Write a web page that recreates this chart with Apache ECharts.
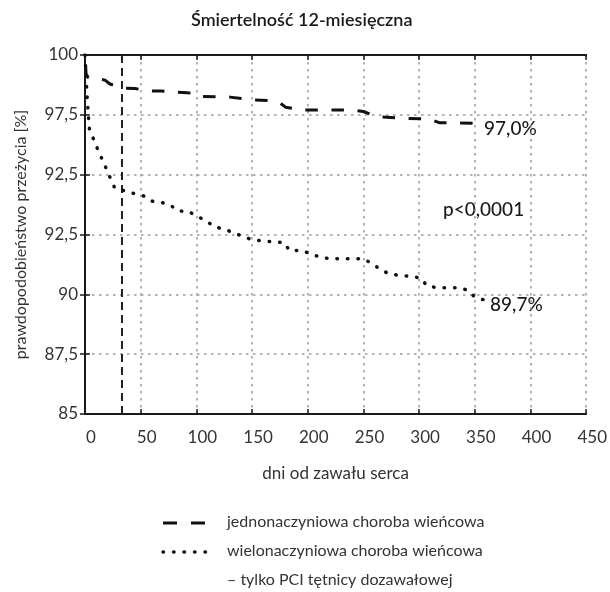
<!DOCTYPE html>
<html>
<head>
<meta charset="utf-8">
<script src="https://cdn.jsdelivr.net/npm/echarts@6/dist/echarts.min.js"></script>
<style>
html,body{margin:0;padding:0;background:#fff;}
#c{width:610px;height:592px;}
</style>
</head>
<body>
<div id="c"></div>
<script>
const titleText = 'Śmiertelność 12-miesięczna';
const xAxisName = 'dni od zawału serca';
const yAxisName = 'prawdopodobieństwo przeżycia [%]';
const yTickLabels = ['85', '87,5', '90', '92,5', '92,5', '97,5', '100'];
const seriesNames = ['jednonaczyniowa choroba wieńcowa', 'wielonaczyniowa choroba wieńcowa'];
const legendExtra = '– tylko PCI tętnicy dozawałowej';
const markerDay = [33];
const annotations = ['97,0%', 'p<0,0001', '89,7%'];

const days1 = [0, 0.5, 1, 3, 12, 18, 22, 28, 33, 45, 57, 68, 81, 92, 100, 104, 130, 149, 165, 175, 180, 197, 240, 250, 262, 290, 310, 318, 348];
const vals1 = [100, 99.6, 99.2, 99.05, 99.0, 98.95, 98.8, 98.7, 98.62, 98.6, 98.5, 98.5, 98.45, 98.42, 98.4, 98.27, 98.24, 98.13, 98.1, 98.0, 97.82, 97.7, 97.7, 97.64, 97.42, 97.35, 97.32, 97.17, 97.15];

const days2 = [0, 0.5, 1, 1.5, 2, 3, 4, 7.7, 11.3, 15.1, 19, 22.8, 26.7, 35.9, 45.1, 54.3, 60.5, 69.7, 77.7, 83.6, 92.5, 100.8, 109.7, 115.6, 125.1, 133.7, 142.3, 150.6, 160.4, 170, 178.8, 183.8, 193.3, 202.2, 211.1, 220.6, 230.1, 248.7, 257.3, 265, 273.3, 282.8, 292.3, 301.5, 307.1, 315.7, 334.7, 343.3, 350.4, 359];
const vals2 = [100, 99.5, 99.1, 98.6, 98.2, 97.5, 96.9, 96.48, 96.07, 95.67, 95.26, 94.85, 94.44, 94.32, 94.2, 94.09, 93.89, 93.83, 93.69, 93.48, 93.47, 93.26, 93.05, 92.83, 92.72, 92.57, 92.41, 92.27, 92.23, 92.19, 92.16, 91.82, 91.84, 91.71, 91.55, 91.48, 91.49, 91.49, 91.31, 91.04, 90.85, 90.79, 90.75, 90.68, 90.35, 90.28, 90.28, 90.18, 89.87, 89.76];

const FONT = 'Lato';
const chart = echarts.init(document.getElementById('c'), null, {renderer: 'canvas'});
const yMin = 85, yMax = 100, yStep = 2.5;
const xMin = 0, xMax = 450, xStep = 50;

const gridLine = {show: true, lineStyle: {color: '#9a9a9a', width: 1.5, type: [2.5, 4.5]}};
const axisLineStyle = {show: true, lineStyle: {color: '#1a1a1a', width: 2}};
const tickInside = {show: true, inside: true, length: 5, lineStyle: {color: '#1a1a1a', width: 1.5}};

chart.setOption({
  animation: false,
  backgroundColor: '#fff',
  title: {
    text: titleText, left: 186, top: 6,
    textStyle: {fontFamily: FONT, fontSize: 18, fontWeight: 600, color: '#1a1a1a'}
  },
  grid: {left: 85, right: 19, top: 55, bottom: 178},
  xAxis: [{
    type: 'value', min: xMin, max: xMax, interval: xStep, position: 'bottom',
    axisLine: axisLineStyle, axisTick: tickInside, splitLine: gridLine,
    axisLabel: {color: '#333', fontFamily: FONT, fontSize: 17, margin: 15, padding: [0, 0, 0, 12]},
    name: xAxisName, nameLocation: 'middle', nameGap: 51,
    nameTextStyle: {color: '#333', fontFamily: FONT, fontSize: 17}
  }, {
    type: 'value', min: xMin, max: xMax, interval: xStep, position: 'top',
    axisLine: axisLineStyle, axisTick: tickInside, splitLine: {show: false},
    axisLabel: {show: false}
  }],
  yAxis: [{
    type: 'value', min: yMin, max: yMax, interval: yStep, position: 'left',
    axisLine: axisLineStyle, axisTick: tickInside, splitLine: gridLine,
    axisLabel: {
      color: '#333', fontFamily: FONT, fontSize: 17, margin: 7,
      formatter: function (v) { return yTickLabels[Math.round((v - yMin) / yStep)]; }
    },
    name: yAxisName, nameLocation: 'middle', nameGap: 56,
    nameTextStyle: {color: '#333', fontFamily: FONT, fontSize: 16}
  }, {
    type: 'value', min: yMin, max: yMax, interval: yStep, position: 'right',
    axisLine: axisLineStyle, axisTick: tickInside, splitLine: {show: false},
    axisLabel: {show: false}
  }],
  series: [{
    name: seriesNames[0], type: 'line', symbol: 'none', z: 5,
    data: days1.map((d, i) => [d, vals1[i]]),
    lineStyle: {color: '#111', width: 3, type: [12.5, 13.6], dashOffset: 15},
    markLine: {
      silent: true, symbol: 'none', label: {show: false},
      lineStyle: {color: '#222', width: 2, type: [8, 5]},
      data: markerDay.map(d => ({xAxis: d}))
    }
  }, {
    name: seriesNames[1], type: 'line', symbol: 'none', z: 5,
    data: days2.map((d, i) => [d, vals2[i]]),
    lineStyle: {color: '#111', width: 3.5, type: [0.5, 10], cap: 'round'}
  }],
  graphic: [
    {type: 'text', left: 484, top: 119, style: {text: annotations[0], fontFamily: FONT, fontSize: 19, fontWeight: 500, fill: '#1a1a1a'}},
    {type: 'text', left: 443, top: 200, style: {text: annotations[1], fontFamily: FONT, fontSize: 19, fontWeight: 500, fill: '#1a1a1a'}},
    {type: 'text', left: 490, top: 295, style: {text: annotations[2], fontFamily: FONT, fontSize: 19, fontWeight: 500, fill: '#1a1a1a'}},
    {type: 'line', shape: {x1: 163, y1: 523, x2: 205, y2: 523}, style: {stroke: '#111', lineWidth: 3, lineDash: [14, 14]}},
    {type: 'line', shape: {x1: 163, y1: 552, x2: 206, y2: 552}, style: {stroke: '#111', lineWidth: 3.5, lineDash: [0.5, 10], lineCap: 'round'}},
    {type: 'text', left: 227, top: 514, style: {text: seriesNames[0], fontFamily: FONT, fontSize: 16, fill: '#333'}},
    {type: 'text', left: 227, top: 543, style: {text: seriesNames[1], fontFamily: FONT, fontSize: 16, fill: '#333'}},
    {type: 'text', left: 227, top: 572, style: {text: legendExtra, fontFamily: FONT, fontSize: 16, fill: '#333'}}
  ]
});
</script>
</body>
</html>
